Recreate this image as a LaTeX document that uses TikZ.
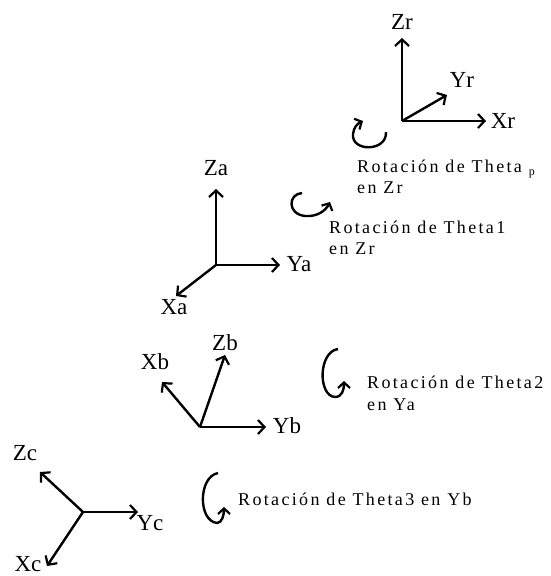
\documentclass[tikz,border=0pt]{standalone}
\usepackage{fontspec}
\setmainfont{Liberation Serif}
\newfontfamily\rotfont[LetterSpace=13]{Liberation Serif}
\usetikzlibrary{arrows.meta}
\tikzset{
  axis/.style={line width=2.4pt, -{Straight Barb[length=6.5pt,width=14pt,line width=2.2pt]}},
  curl/.style={line width=2.4pt, -{Straight Barb[length=5.5pt,width=12pt,line width=2.2pt]}},
  lbl/.style={font=\fontsize{23}{25}\selectfont, inner sep=0pt},
  rot/.style={font=\rotfont\fontsize{18}{20}\selectfont, inner sep=0pt, anchor=base west},
}
\begin{document}
\begin{tikzpicture}[x=1pt,y=-1pt]
\useasboundingbox (0,0) rectangle (551,576);
% Frame R
\coordinate (oR) at (402,121);
\coordinate (zR) at (402,38);
\coordinate (yR) at (447,95);
\coordinate (xR) at (486,121);
\draw[axis] (oR) -- (zR);
\draw[axis] (oR) -- (yR);
\draw[axis] (oR) -- (xR);
\node[lbl] (lZr) at (402,22) {Zr};
\node[lbl] (lYr) at (462,80) {Yr};
\node[lbl] (lXr) at (503,121) {Xr};
% Frame A
\coordinate (oA) at (216,265);
\coordinate (zA) at (216,189);
\coordinate (yA) at (280,265);
\coordinate (xA) at (176,296);
\draw[axis] (oA) -- (zA);
\draw[axis] (oA) -- (yA);
\draw[axis] (oA) -- (xA);
\node[lbl] (lZa) at (216,168) {Za};
\node[lbl] (lYa) at (299,264) {Ya};
\node[lbl] (lXa) at (174,307) {Xa};
% Frame B
\coordinate (oB) at (200,427);
\coordinate (zB) at (225,355);
\coordinate (yB) at (266,427);
\coordinate (xB) at (162,382);
\draw[axis] (oB) -- (zB);
\draw[axis] (oB) -- (yB);
\draw[axis] (oB) -- (xB);
\node[lbl] (lZb) at (225,343) {Zb};
\node[lbl] (lXb) at (155,362) {Xb};
\node[lbl] (lYb) at (287,426) {Yb};
% Frame C
\coordinate (oC) at (83,512);
\coordinate (zC) at (40,472);
\coordinate (yC) at (138,512);
\coordinate (xC) at (47,566);
\draw[axis] (oC) -- (zC);
\draw[axis] (oC) -- (yC);
\draw[axis] (oC) -- (xC);
\node[lbl] (lZc) at (25,453) {Zc};
\node[lbl] (lYc) at (150,523) {Yc};
\node[lbl] (lXc) at (28,564) {Xc};
% Curls
\draw[curl] (386,132) .. controls (387,152) and (351,152) .. (353,134) .. controls (354,127) and (357,124) .. (363,121);
\draw[curl] (302,193) .. controls (288,194) and (287,214) .. (305,216) .. controls (318,217) and (326,210) .. (330,202);
\draw[curl] (338,349) .. controls (318,352) and (318,396) .. (335,397) .. controls (342,397) and (344,390) .. (344,381);
\draw[curl] (218,473) .. controls (198,477) and (198,521) .. (217,523) .. controls (222,523) and (224,515) .. (224,507);
% Rotation texts
\node[rot] (tp1) at (357,172) {Rotación de Theta \raisebox{-3pt}{\fontsize{12}{12}\selectfont p}};
\node[rot] (tp2) at (357,193) {en Zr};
\node[rot] (t11) at (329,233) {Rotación de Theta1};
\node[rot] (t12) at (329,254) {en Zr};
\node[rot] (t21) at (367,388) {Rotación de Theta2};
\node[rot] (t22) at (367,410) {en Ya};
\node[rot] (t3) at (238,505) {Rotación de Theta3 en Yb};
\end{tikzpicture}
\end{document}
